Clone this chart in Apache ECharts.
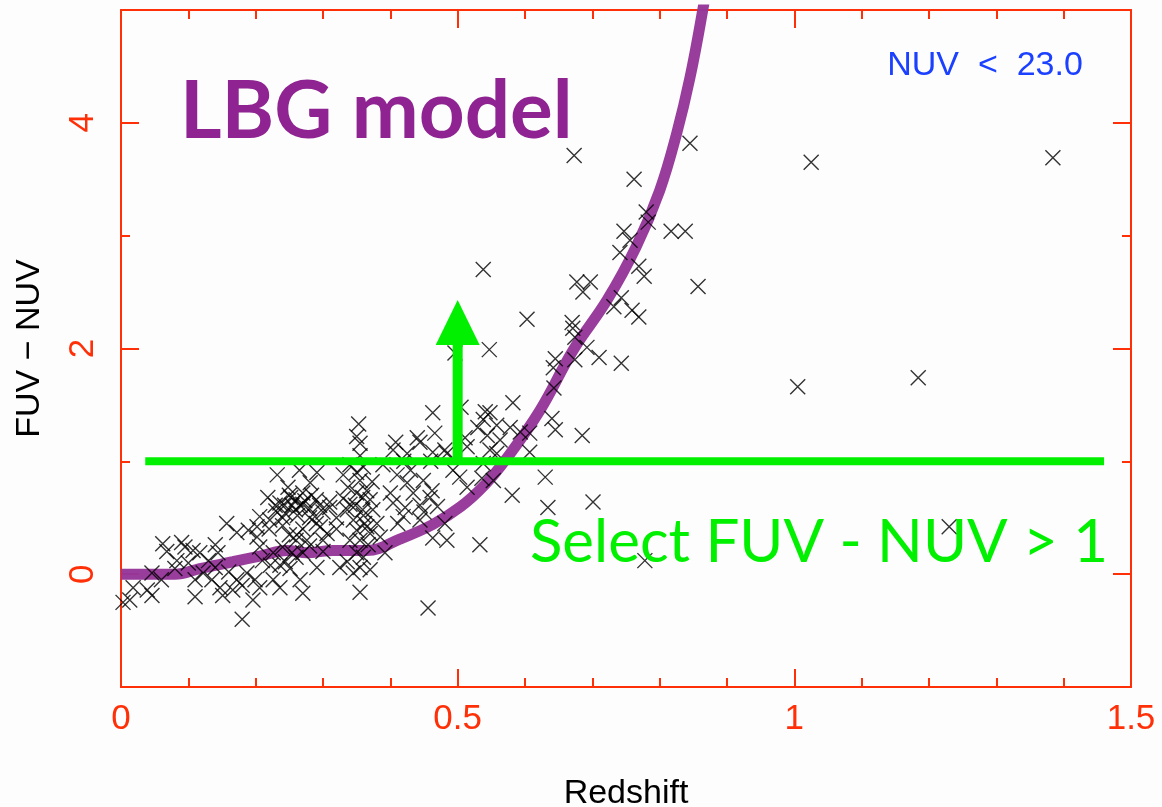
<!DOCTYPE html>
<html>
<head>
<meta charset="utf-8">
<title>FUV - NUV vs Redshift</title>
<script src="https://cdn.jsdelivr.net/npm/echarts@6/dist/echarts.min.js"></script>
<style>
  html, body { margin: 0; padding: 0; background: #fdfdfd; }
  #chart { width: 1162px; height: 807px; }
</style>
</head>
<body>
<div id="chart"></div>
<script>
// Galaxies: [redshift, FUV - NUV]
const galaxies = [
  [0.353, 1.33], [0.355, 1.16], [0.355, 1.05], [0.408, 1.17], [0.232, 0.88], [0.291, 0.90],
  [0.248, 0.77], [0.281, 0.81], [0.337, 0.77], [0.355, 0.83], [0.373, 0.82], [0.350, 0.72],
  [0.359, 0.68], [0.236, 0.63], [0.266, 0.61], [0.244, 0.54], [0.310, 0.59], [0.206, 0.51],
  [0.202, 0.42], [0.288, 0.51], [0.296, 0.42], [0.157, 0.45], [0.172, 0.37], [0.189, 0.39],
  [0.202, 0.33], [0.206, 0.24], [0.226, 0.19], [0.244, 0.11], [0.251, 0.05], [0.236, 0.08],
  [0.270, 0.19], [0.276, 0.30], [0.306, 0.36], [0.261, 0.35], [0.336, 0.57], [0.345, 0.48],
  [0.359, 0.57], [0.365, 0.42], [0.385, 0.33], [0.355, 0.30], [0.350, 0.19], [0.336, 0.11],
  [0.355, 0.06], [0.370, 0.04], [0.355, -0.16], [0.456, -0.30], [0.180, -0.40], [0.392, 0.19],
  [0.404, 0.63], [0.411, 0.45], [0.062, 0.27], [0.068, 0.20], [0.083, 0.12], [0.095, 0.24],
  [0.107, 0.21], [0.117, 0.19], [0.140, 0.26], [0.144, 0.19], [0.122, 0.01], [0.046, 0.01],
  [0.018, -0.12], [0.039, -0.14], [0.046, -0.19], [0.013, -0.23], [0.003, -0.25], [0.110, -0.05],
  [0.110, -0.20], [0.135, -0.05], [0.147, -0.12], [0.166, -0.14], [0.151, -0.19], [0.172, -0.05],
  [0.187, 0.01], [0.199, -0.05], [0.196, -0.23], [0.206, -0.12], [0.226, -0.05], [0.236, -0.12],
  [0.266, -0.05], [0.270, -0.17], [0.291, 0.06], [0.325, 0.06], [0.345, 0.01],
  [0.218, 0.68], [0.229, 0.61], [0.252, 0.68], [0.259, 0.57], [0.273, 0.65], [0.262, 0.52],
  [0.254, 0.61], [0.243, 0.61], [0.221, 0.48], [0.240, 0.43], [0.260, 0.30], [0.240, 0.24],
  [0.210, 0.12], [0.222, 0.08], [0.254, 0.19], [0.295, 0.61], [0.283, 0.70], [0.330, 0.88],
  [0.340, 0.97], [0.330, 0.67], [0.365, 0.74], [0.348, 0.61], [0.362, 0.45], [0.374, 0.57],
  [0.367, 0.26], [0.350, 0.39], [0.265, 0.92], [0.270, 0.72], [0.404, 1.10], [0.389, 0.97],
  [0.270, 0.62], [0.280, 0.58], [0.290, 0.66], [0.300, 0.55], [0.250, 0.70], [0.260, 0.66],
  [0.280, 0.50], [0.290, 0.45], [0.310, 0.64], [0.320, 0.50], [0.240, 0.50], [0.230, 0.56],
  [0.220, 0.40], [0.250, 0.35], [0.270, 0.40], [0.300, 0.30], [0.280, 0.25], [0.260, 0.15],
  [0.300, 0.20], [0.320, 0.40], [0.350, 0.90], [0.360, 0.95], [0.370, 0.66], [0.360, 0.52],
  [0.340, 0.62], [0.370, 0.36], [0.340, 0.30], [0.360, 0.15], [0.380, 0.45], [0.350, 1.22],
  [0.410, 0.88], [0.430, 0.92], [0.450, 0.55], [0.470, 0.60], [0.400, 0.72], [0.420, 1.00],
  [0.460, 1.00], [0.080, 0.05], [0.060, -0.05], [0.140, 0.06], [0.160, 0.02], [0.180, -0.10],
  [0.130, 0.12], [0.090, 0.28], [0.100, 0.10],
  [0.538, 2.70], [0.677, 2.59], [0.697, 2.59], [0.686, 2.50], [0.603, 2.26], [0.670, 2.23],
  [0.671, 2.18], [0.674, 2.10], [0.692, 2.01], [0.710, 1.92], [0.743, 1.87], [0.547, 1.99],
  [0.496, 1.96], [0.645, 1.91], [0.642, 1.83], [0.674, 1.90], [0.643, 1.65], [1.005, 1.66],
  [1.184, 1.74], [0.582, 1.52], [0.463, 1.43], [0.505, 1.48], [0.541, 1.44], [0.548, 1.43],
  [0.538, 1.37], [0.530, 1.30], [0.558, 1.32], [0.578, 1.30], [0.544, 1.23], [0.563, 1.19],
  [0.548, 1.10], [0.558, 1.07], [0.593, 1.26], [0.607, 1.25], [0.640, 1.38], [0.645, 1.28],
  [0.685, 1.23], [0.607, 1.08], [0.466, 1.25], [0.440, 1.21], [0.444, 1.17], [0.481, 1.10],
  [0.463, 1.08], [0.425, 1.07], [0.511, 1.21], [0.514, 1.13], [0.484, 1.07], [0.538, 0.98],
  [0.630, 0.86], [0.581, 0.70], [0.634, 0.59], [0.701, 0.64], [0.533, 0.26], [0.463, 0.32],
  [0.484, 0.30], [0.481, 0.45], [0.444, 0.48], [0.503, 0.86], [0.514, 0.77], [0.493, 0.92],
  [0.536, 0.85], [0.553, 0.83], [0.425, 0.81], [0.449, 0.83], [0.434, 0.72], [0.459, 0.68],
  [0.422, 0.59], [0.444, 0.61], [0.419, 0.51], [0.462, 0.74], [0.778, 0.12], [1.230, 0.42],
  [0.673, 3.71], [0.845, 3.82], [0.762, 3.50], [1.025, 3.65], [1.384, 3.69], [0.780, 3.21],
  [0.783, 3.12], [0.747, 3.04], [0.817, 3.04], [0.838, 3.04], [0.756, 2.96], [0.741, 2.85],
  [0.769, 2.73], [0.777, 2.64], [0.857, 2.55], [0.743, 2.45], [0.732, 2.37], [0.759, 2.34],
  [0.769, 2.28]
];

// LBG model colour track: [redshift, FUV - NUV]
const lbgModel = [
  [0.000, 0.00], [0.043, 0.00], [0.080, 0.00], [0.117, 0.05], [0.166, 0.11], [0.206, 0.16],
  [0.247, 0.21], [0.276, 0.19], [0.315, 0.21], [0.365, 0.21], [0.414, 0.31], [0.463, 0.44],
  [0.505, 0.60], [0.540, 0.79], [0.572, 1.02], [0.622, 1.45], [0.672, 1.99], [0.722, 2.43],
  [0.765, 2.90], [0.800, 3.40], [0.825, 3.90], [0.845, 4.40], [0.864, 5.00], [0.872, 5.30]
];

// Colour cut and selection arrow
const cutColour = 1;
const cutRange = [0.036, 1.46];
const arrowRedshift = 0.5;
const arrowTop = 2.43;

// Axis ticks
const xRange = [0, 1.5];
const xStep = 0.5;
const yRange = [-1, 5];
const yMajorTicks = [0, 2, 4];
const yMinorTicks = [1, 3];

const RED = '#ff3008';
const GREEN = '#00f000';
const PURPLE = '#96379a';
const AXIS_FONT = '"Liberation Sans", Arial, sans-serif';

const chart = echarts.init(document.getElementById('chart'), null, { renderer: 'canvas' });

function xAxisDef(pos, withLabels) {
  return {
    type: 'value', position: pos, min: xRange[0], max: xRange[1], interval: xStep,
    name: withLabels ? 'Redshift' : '', nameLocation: 'middle', nameGap: 90,
    nameTextStyle: { color: '#000', fontSize: 34, fontFamily: AXIS_FONT },
    axisLine: { show: true, onZero: false, lineStyle: { color: RED, width: 2 } },
    axisTick: { show: true, inside: true, length: 18, lineStyle: { color: RED, width: 2 } },
    minorTick: { show: true, splitNumber: 5, length: 9, lineStyle: { color: RED, width: 2 } },
    axisLabel: { show: withLabels, color: RED, fontSize: 35, fontFamily: AXIS_FONT, margin: 15 },
    splitLine: { show: false }, minorSplitLine: { show: false }
  };
}

function yAxisDef(pos, ticks, len, withLabels) {
  return {
    type: 'value', position: pos, min: yRange[0], max: yRange[1],
    name: withLabels ? 'FUV \u2212 NUV' : '', nameLocation: 'middle', nameGap: 74,
    nameTextStyle: { color: '#000', fontSize: 34, fontFamily: AXIS_FONT },
    axisLine: { show: true, onZero: false, lineStyle: { color: RED, width: 2 } },
    axisTick: { show: true, inside: true, length: len, customValues: ticks,
      lineStyle: { color: RED, width: 2 } },
    axisLabel: { show: withLabels, customValues: ticks, rotate: 90, color: RED,
      fontSize: 35, fontFamily: AXIS_FONT, margin: 20 },
    splitLine: { show: false }
  };
}

const option = {
  backgroundColor: '#fdfdfd',
  animation: false,
  grid: { left: 121, right: 31, top: 10, bottom: 120, containLabel: false, outerBoundsMode: 'none' },
  xAxis: [xAxisDef('bottom', true), xAxisDef('top', false)],
  yAxis: [
    yAxisDef('left', yMajorTicks, 18, true),
    yAxisDef('left', yMinorTicks, 9, false),
    yAxisDef('right', yMajorTicks, 18, false),
    yAxisDef('right', yMinorTicks, 9, false)
  ],
  series: [
    {
      name: 'LBG model', type: 'line', data: lbgModel, smooth: 0.4,
      showSymbol: false, clip: true, z: 2,
      lineStyle: { color: PURPLE, width: 11, opacity: 0.97 }
    },
    {
      name: 'galaxies', type: 'scatter', data: galaxies, z: 3,
      symbol: 'path://M0 0L10 10M10 0L0 10', symbolSize: 15,
      itemStyle: { color: 'rgba(0,0,0,0)', borderColor: '#000', borderWidth: 1.4 }
    },
    {
      name: 'cut', type: 'line', z: 4, showSymbol: false,
      data: [[cutRange[0], cutColour], [cutRange[1], cutColour]],
      lineStyle: { color: GREEN, width: 8 }
    },
    {
      name: 'arrow', type: 'custom', z: 5,
      data: [[arrowRedshift, cutColour, arrowTop]],
      renderItem: function (params, api) {
        const base = api.coord([api.value(0), api.value(1)]);
        const tip = api.coord([api.value(0), api.value(2)]);
        const headH = 45, headW = 44, shaftW = 10;
        const headBase = tip[1] + headH;
        return {
          type: 'group',
          children: [
            { type: 'rect',
              shape: { x: base[0] - shaftW / 2, y: headBase - 1, width: shaftW, height: base[1] - headBase + 1 },
              style: { fill: GREEN } },
            { type: 'polygon',
              shape: { points: [[tip[0], tip[1]], [tip[0] - headW / 2, headBase], [tip[0] + headW / 2, headBase]] },
              style: { fill: GREEN } }
          ]
        };
      }
    }
  ],
  graphic: [
    { type: 'text', z: 10, style: { x: 180, y: 112, text: 'LBG model', fill: '#8e2391',
        font: 'bold 80px Lato, "Open Sans", sans-serif', align: 'left', verticalAlign: 'middle' } },
    { type: 'text', z: 10, style: { x: 985, y: 66, text: 'NUV  <  23.0', fill: '#1c40ff',
        font: '34px ' + AXIS_FONT, align: 'center', verticalAlign: 'middle' } },
    { type: 'text', z: 10, style: { x: 530, y: 543, text: 'Select FUV - NUV > 1', fill: GREEN,
        font: '60px Lato, "Open Sans", sans-serif', align: 'left', verticalAlign: 'middle' } }
  ]
};

chart.setOption(option);
</script>
</body>
</html>
